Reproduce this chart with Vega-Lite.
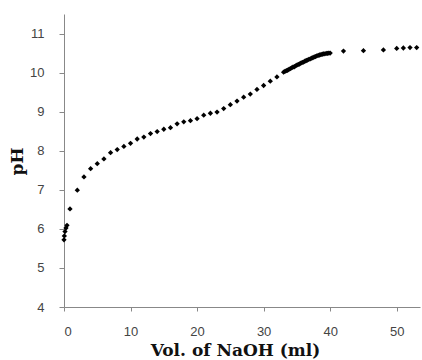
{
  "$schema": "https://vega.github.io/schema/vega-lite/v6.json",
  "width": 356,
  "height": 293,
  "autosize": {"type": "none"},
  "padding": {"left": 64, "top": 14, "right": 2, "bottom": 53},
  "background": "white",
  "config": {"view": {"stroke": null}},
  "data": {"values": [
    {"vol": 0, "ph": 5.72}, {"vol": 0.05, "ph": 5.82}, {"vol": 0.15, "ph": 5.93}, {"vol": 0.3, "ph": 6.02}, {"vol": 0.45, "ph": 6.09},
    {"vol": 0.9, "ph": 6.51}, {"vol": 2, "ph": 6.99}, {"vol": 3, "ph": 7.33}, {"vol": 4, "ph": 7.54}, {"vol": 5, "ph": 7.67},
    {"vol": 6, "ph": 7.79}, {"vol": 7, "ph": 7.95}, {"vol": 8, "ph": 8.03}, {"vol": 9, "ph": 8.11}, {"vol": 10, "ph": 8.19},
    {"vol": 11, "ph": 8.3}, {"vol": 12, "ph": 8.35}, {"vol": 13, "ph": 8.44}, {"vol": 14, "ph": 8.49}, {"vol": 15, "ph": 8.55},
    {"vol": 16, "ph": 8.59}, {"vol": 17, "ph": 8.69}, {"vol": 18, "ph": 8.74}, {"vol": 19, "ph": 8.77}, {"vol": 20, "ph": 8.82},
    {"vol": 21, "ph": 8.91}, {"vol": 22, "ph": 8.96}, {"vol": 23, "ph": 8.99}, {"vol": 24, "ph": 9.08}, {"vol": 25, "ph": 9.18},
    {"vol": 26, "ph": 9.27}, {"vol": 27, "ph": 9.37}, {"vol": 28, "ph": 9.45}, {"vol": 29, "ph": 9.57}, {"vol": 30, "ph": 9.67},
    {"vol": 31, "ph": 9.78}, {"vol": 32, "ph": 9.89},
    {"vol": 33.0, "ph": 10.01}, {"vol": 33.2, "ph": 10.03}, {"vol": 33.4, "ph": 10.05}, {"vol": 33.6, "ph": 10.06}, {"vol": 33.8, "ph": 10.08},
    {"vol": 34.0, "ph": 10.1}, {"vol": 34.2, "ph": 10.12}, {"vol": 34.4, "ph": 10.14}, {"vol": 34.6, "ph": 10.15}, {"vol": 34.8, "ph": 10.17},
    {"vol": 35.0, "ph": 10.19}, {"vol": 35.2, "ph": 10.21}, {"vol": 35.4, "ph": 10.22}, {"vol": 35.6, "ph": 10.24}, {"vol": 35.8, "ph": 10.26},
    {"vol": 36.0, "ph": 10.27}, {"vol": 36.2, "ph": 10.29}, {"vol": 36.4, "ph": 10.31}, {"vol": 36.6, "ph": 10.32}, {"vol": 36.8, "ph": 10.34},
    {"vol": 37.0, "ph": 10.35}, {"vol": 37.2, "ph": 10.37}, {"vol": 37.4, "ph": 10.38}, {"vol": 37.6, "ph": 10.4}, {"vol": 37.8, "ph": 10.41},
    {"vol": 38.0, "ph": 10.43}, {"vol": 38.2, "ph": 10.44}, {"vol": 38.4, "ph": 10.45}, {"vol": 38.6, "ph": 10.46}, {"vol": 38.8, "ph": 10.47},
    {"vol": 39.0, "ph": 10.48}, {"vol": 39.2, "ph": 10.48}, {"vol": 39.4, "ph": 10.49}, {"vol": 39.6, "ph": 10.49}, {"vol": 39.8, "ph": 10.5},
    {"vol": 40.0, "ph": 10.5},
    {"vol": 42, "ph": 10.55}, {"vol": 45, "ph": 10.56}, {"vol": 48, "ph": 10.58}, {"vol": 50, "ph": 10.62}, {"vol": 51, "ph": 10.63},
    {"vol": 52, "ph": 10.64}, {"vol": 53, "ph": 10.64}
  ]},
  "mark": {"type": "point", "shape": "diamond", "filled": true, "color": "black", "size": 28, "opacity": 1},
  "encoding": {
    "x": {
      "field": "vol", "type": "quantitative",
      "scale": {"domain": [0, 53.5], "nice": false, "zero": false},
      "axis": {
        "title": "Vol. of NaOH (ml)", "values": [0, 10, 20, 30, 40, 50],
        "grid": false, "domainColor": "#888", "tickColor": "#888", "tickSize": 4,
        "labelFont": "Liberation Sans", "labelFontSize": 13, "labelColor": "#444", "labelPadding": 14,
        "titleFont": "DejaVu Serif", "titleFontWeight": "bold", "titleFontSize": 17, "titleColor": "#111",
        "titleX": 171, "titleY": 48, "titleBaseline": "alphabetic", "titleAlign": "center"
      }
    },
    "y": {
      "field": "ph", "type": "quantitative",
      "scale": {"domain": [4, 11.5], "nice": false, "zero": false},
      "axis": {
        "title": "pH", "values": [4, 5, 6, 7, 8, 9, 10, 11],
        "grid": false, "domainColor": "#888", "tickColor": "#888", "tickSize": 5,
        "labelFont": "Liberation Sans", "labelFontSize": 13, "labelColor": "#444", "labelPadding": 15,
        "titleFont": "DejaVu Serif", "titleFontWeight": "bold", "titleFontSize": 17, "titleColor": "#111",
        "titleX": -47, "titleY": 147, "titleBaseline": "middle", "titleAlign": "center", "titleAngle": -90
      }
    }
  }
}
